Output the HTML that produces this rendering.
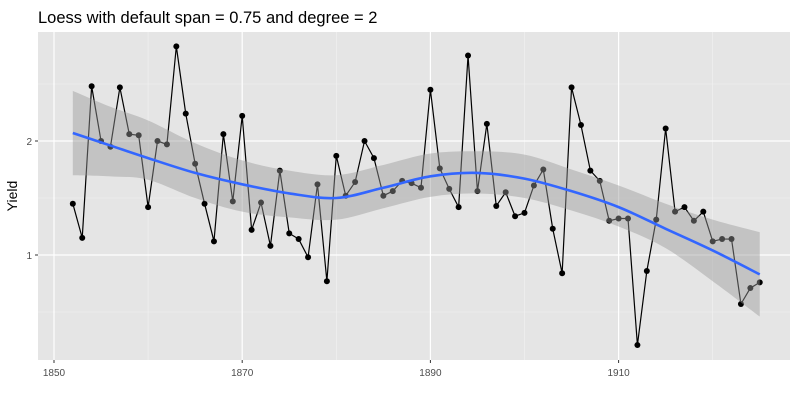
<!DOCTYPE html>
<html><head><meta charset="utf-8"><style>
body{margin:0;background:#fff;font-family:"Liberation Sans",sans-serif}
</style></head><body>
<svg id="chart" width="800" height="400" xmlns="http://www.w3.org/2000/svg">
<text x="38" y="23" font-size="16.5" fill="#000">Loess with default span = 0.75 and degree = 2</text>
<rect x="38" y="32" width="752" height="328" fill="#e5e5e5"/>
<g id="grid"></g><g id="marks"></g><g id="axes"></g>
<text transform="translate(17,196) rotate(-90)" text-anchor="middle" font-size="14">Yield</text>
</svg>
<script>
const years=[];for(let y=1852;y<=1925;y++)years.push(y);
const yieldVals=[1.45,1.15,2.48,2.00,1.95,2.47,2.06,2.05,1.42,2.00,1.97,2.83,2.24,1.80,1.45,1.12,2.06,1.47,2.22,1.22,1.46,1.08,1.74,1.19,1.14,0.98,1.62,0.77,1.87,1.52,1.64,2.00,1.85,1.52,1.56,1.65,1.63,1.59,2.45,1.76,1.58,1.42,2.75,1.56,2.15,1.43,1.55,1.34,1.37,1.61,1.75,1.23,0.84,2.47,2.14,1.74,1.65,1.30,1.32,1.32,0.21,0.86,1.31,2.11,1.38,1.42,1.30,1.38,1.12,1.14,1.14,0.57,0.71,0.76];
const fitYears=[1852,1856,1860,1865,1870,1875,1880,1885,1890,1895,1900,1905,1910,1915,1920,1925];
const fitVals=[2.07,1.96,1.85,1.72,1.62,1.54,1.50,1.59,1.69,1.72,1.67,1.56,1.42,1.23,1.04,0.83];
const fitUpper=[2.44,2.30,2.18,1.98,1.83,1.74,1.70,1.79,1.89,1.91,1.88,1.75,1.61,1.45,1.31,1.20];
const fitLower=[1.70,1.69,1.66,1.50,1.38,1.33,1.31,1.41,1.51,1.54,1.50,1.39,1.25,1.06,0.77,0.46];
const xTicks=[1850,1870,1890,1910],xMinor=[1860,1880,1900,1920];
const yTicks=[1,2],yMinor=[0.5,1.5,2.5];
const X=y=>54+9.41*(y-1850), Y=v=>255-114*(v-1);
const NS="http://www.w3.org/2000/svg";
function mk(tag,attrs,parent){const e=document.createElementNS(NS,tag);for(const k in attrs)e.setAttribute(k,attrs[k]);document.getElementById(parent).appendChild(e);return e;}
xMinor.forEach(t=>{const e=mk('line',{x1:X(t),x2:X(t),y1:32,y2:360,stroke:'#f2f2f2','stroke-width':0.6},'grid');});
yMinor.forEach(t=>{const e=mk('line',{x1:38,x2:790,y1:Y(t),y2:Y(t),stroke:'#f2f2f2','stroke-width':0.6},'grid');});
xTicks.forEach(t=>{const e=mk('line',{x1:X(t),x2:X(t),y1:32,y2:360,stroke:'#fff','stroke-width':1.2},'grid');
const tk=mk('line',{x1:X(t),x2:X(t),y1:360,y2:363,stroke:'#333','stroke-width':1},'axes');
const l=mk('text',{x:X(t),y:376,'text-anchor':'middle','font-size':10,fill:'#4d4d4d'},'axes');l.textContent=t;});
yTicks.forEach(t=>{const e=mk('line',{x1:38,x2:790,y1:Y(t),y2:Y(t),stroke:'#fff','stroke-width':1.2},'grid');
const tk=mk('line',{x1:35,x2:38,y1:Y(t),y2:Y(t),stroke:'#333','stroke-width':1},'axes');
const l=mk('text',{x:32,y:Y(t)+4,'text-anchor':'end','font-size':10,fill:'#4d4d4d'},'axes');l.textContent=t;});
const pts=years.map((y,i)=>[X(y),Y(yieldVals[i])]);
const ln=mk('polyline',{points:pts.map(p=>p.join(',')).join(' '),fill:'none',stroke:'#000','stroke-width':1.2},'marks');

pts.forEach(p=>{const c=mk('circle',{cx:p[0],cy:p[1],r:3,fill:'#000'},'marks');});
function spline(P){let d='M'+P[0].join(',');for(let i=0;i<P.length-1;i++){const p0=P[Math.max(0,i-1)],p1=P[i],p2=P[i+1],p3=P[Math.min(P.length-1,i+2)];
const c1=[p1[0]+(p2[0]-p0[0])/6,p1[1]+(p2[1]-p0[1])/6],c2=[p2[0]-(p3[0]-p1[0])/6,p2[1]-(p3[1]-p1[1])/6];d+=' C'+c1.join(',')+' '+c2.join(',')+' '+p2.join(',');}return d;}
const up=fitYears.map((y,i)=>[X(y),Y(fitUpper[i])]);
const lo=fitYears.map((y,i)=>[X(y),Y(fitLower[i])]).reverse();
const band=mk('path',{d:spline(up)+' L'+spline(lo).slice(1)+' Z',fill:'rgba(153,153,153,0.45)'},'marks');

const fit=mk('path',{d:spline(fitYears.map((y,i)=>[X(y),Y(fitVals[i])])),fill:'none',stroke:'#3366FF','stroke-width':2.6},'marks');

</script>
</body></html>
